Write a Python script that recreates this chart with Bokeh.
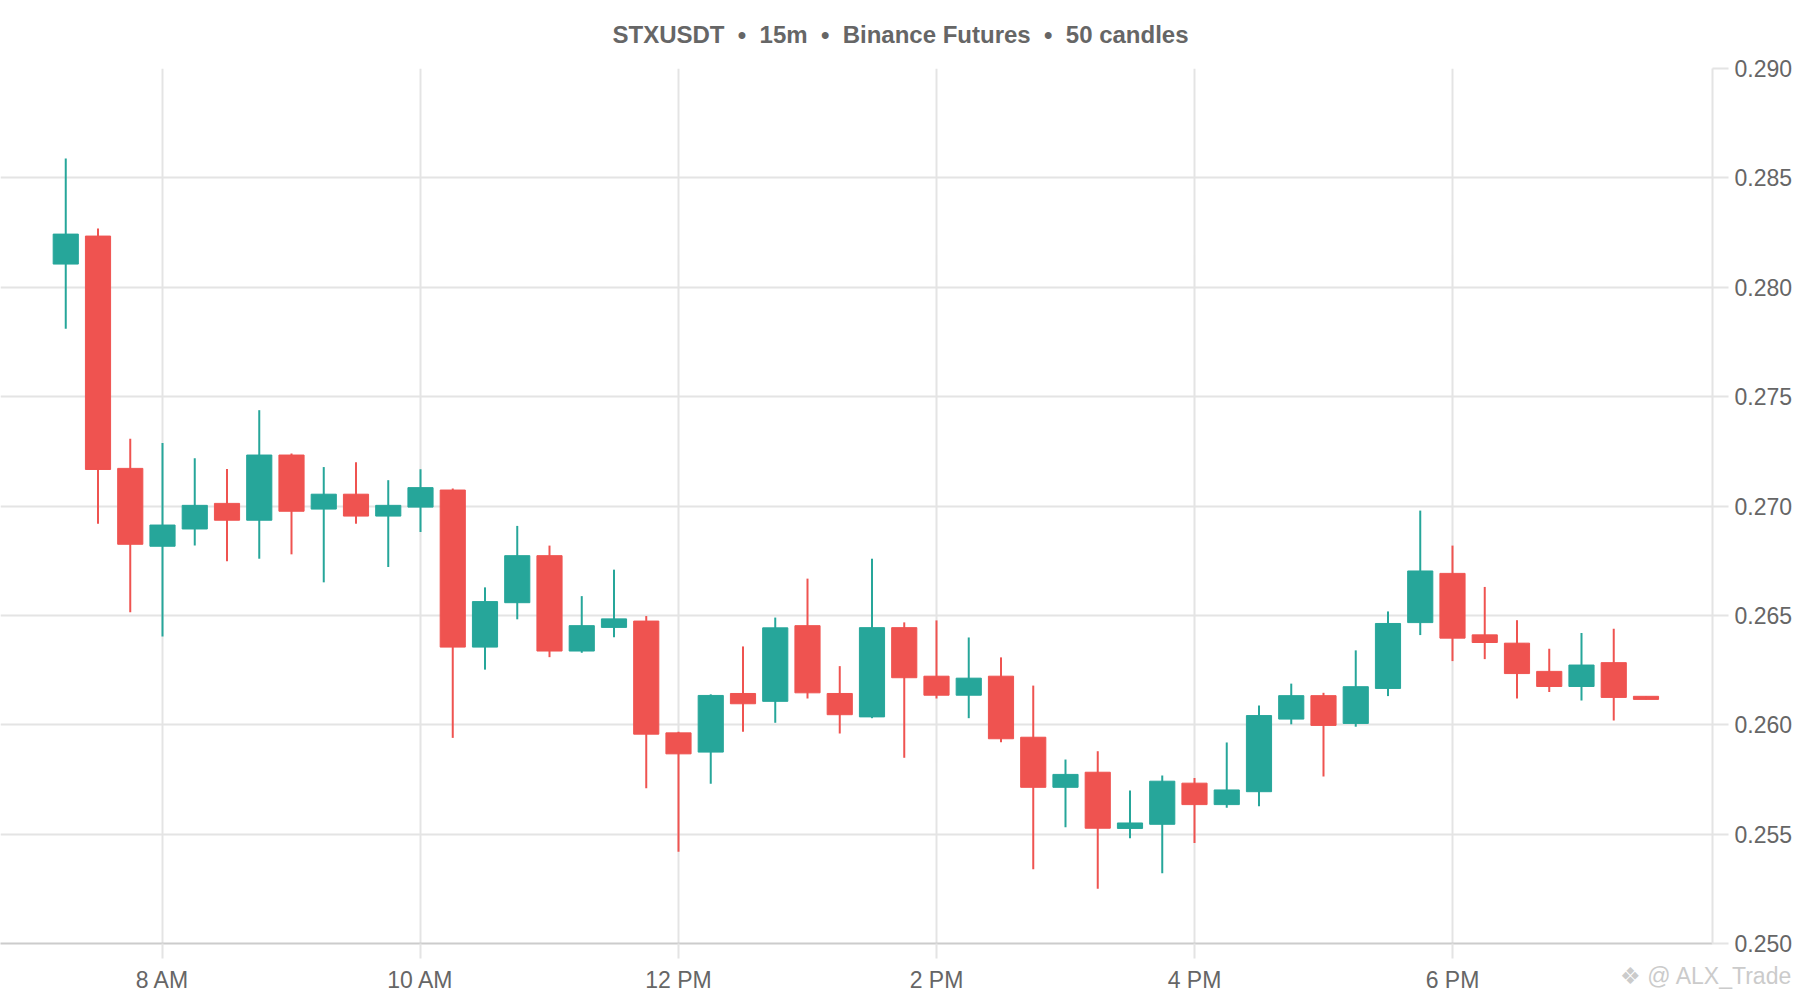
import pandas as pd
from bokeh.plotting import figure
from bokeh.models import ColumnDataSource, Range1d, FixedTicker, Label, NumeralTickFormatter
from bokeh.embed import file_html
from bokeh.resources import INLINE

# ---------------- data ----------------
symbol = "STXUSDT"
interval = "15m"
exchange = "Binance Futures"
n_candles = 50
session_day = "2024-01-15"
first_candle = "07:15"

opens = [0.28106, 0.28234, 0.27172, 0.26816, 0.26895, 0.27012, 0.26935, 0.27233, 0.26986, 0.27054,
         0.26954, 0.26995, 0.27073, 0.26355, 0.26558, 0.26773, 0.26337, 0.26445, 0.26474, 0.25963,
         0.25875, 0.26143, 0.26107, 0.26453, 0.26143, 0.26036, 0.26444, 0.26222, 0.26135, 0.26222,
         0.25943, 0.25714, 0.25783, 0.25526, 0.25545, 0.25733, 0.25635, 0.25694, 0.26026, 0.26133,
         0.26006, 0.26166, 0.26467, 0.26692, 0.26411, 0.26373, 0.26244, 0.26175, 0.26284, 0.26130]
highs = [0.28589, 0.28269, 0.27308, 0.27288, 0.27218, 0.27169, 0.27438, 0.27240, 0.27178, 0.27200,
         0.27118, 0.27168, 0.27080, 0.26628, 0.26909, 0.26819, 0.26588, 0.26709, 0.26497, 0.25968,
         0.26139, 0.26358, 0.26490, 0.26668, 0.26268, 0.26759, 0.26468, 0.26477, 0.26399, 0.26308,
         0.26179, 0.25841, 0.25879, 0.25699, 0.25768, 0.25757, 0.25919, 0.26088, 0.26188, 0.26146,
         0.26340, 0.26518, 0.26979, 0.26819, 0.26630, 0.26478, 0.26348, 0.26419, 0.26439, 0.26130]
lows = [0.27810, 0.26919, 0.26514, 0.26404, 0.26820, 0.26748, 0.26759, 0.26779, 0.26651, 0.26919,
        0.26721, 0.26881, 0.25940, 0.26252, 0.26482, 0.26309, 0.26329, 0.26400, 0.25710, 0.25420,
        0.25730, 0.25968, 0.26009, 0.26120, 0.25960, 0.26030, 0.25849, 0.26120, 0.26030, 0.25920,
        0.25340, 0.25531, 0.25250, 0.25481, 0.25321, 0.25460, 0.25621, 0.25628, 0.26002, 0.25763,
        0.25991, 0.26131, 0.26410, 0.26291, 0.26300, 0.26120, 0.26150, 0.26111, 0.26020, 0.26116]
closes = [0.28243, 0.27167, 0.26825, 0.26913, 0.27003, 0.26935, 0.27233, 0.26976, 0.27054, 0.26954,
          0.27003, 0.27084, 0.26355, 0.26563, 0.26773, 0.26337, 0.26453, 0.26484, 0.25957, 0.25867,
          0.26134, 0.26096, 0.26443, 0.26146, 0.26046, 0.26444, 0.26215, 0.26135, 0.26213, 0.25936,
          0.25714, 0.25773, 0.25527, 0.25551, 0.25742, 0.25635, 0.25702, 0.26042, 0.26133, 0.25997,
          0.26174, 0.26463, 0.26703, 0.26396, 0.26376, 0.26234, 0.26175, 0.26273, 0.26125, 0.26116]

x_tick_times = ["08:00", "10:00", "12:00", "14:00", "16:00", "18:00"]
x_tick_labels = ["8 AM", "10 AM", "12 PM", "2 PM", "4 PM", "6 PM"]
y_ticks = [0.250, 0.255, 0.260, 0.265, 0.270, 0.275, 0.280, 0.285, 0.290]
watermark = "\u2756 @ ALX_Trade"

UP = "#26a69a"
DOWN = "#ef5350"
TEXT = "#666666"
GRID = "#e4e4e4"
FONT = "Liberation Sans"

# ---------------- build ----------------
times = pd.date_range(f"{session_day} {first_candle}", periods=n_candles, freq="15min")
src = ColumnDataSource(dict(
    t=times,
    o=opens, h=highs, l=lows, c=closes,
    top=[max(a, b) for a, b in zip(opens, closes)],
    bot=[min(a, b) for a, b in zip(opens, closes)],
    col=[UP if c >= o else DOWN for o, c in zip(opens, closes)],
))

bar_ms = 15 * 60 * 1000
x_start = pd.Timestamp(f"{session_day} 06:44:39")
x_end = pd.Timestamp(f"{session_day} 20:00:56")

sep = " \u00a0\u2022\u00a0 "
title_text = sep.join([symbol, interval, exchange, f"{n_candles} candles"])

W, H = 1796, 996
FRAME_TOP = 68
p = figure(width=W, height=H, x_axis_type="datetime", y_axis_location="right",
           x_range=Range1d(x_start, x_end), y_range=Range1d(y_ticks[0], y_ticks[-1]),
           output_backend="svg", toolbar_location=None, title=None,
           min_border_left=0, min_border_right=W - 1712, min_border_top=FRAME_TOP,
           min_border_bottom=H - 943)
p.outline_line_color = None
p.background_fill_color = "white"
p.border_fill_color = "white"

p.segment(x0="t", y0="h", x1="t", y1="l", color="col", line_width=2, source=src)
p.vbar(x="t", top="top", bottom="bot", width=bar_ms * 0.78, fill_color="col",
       line_color="col", line_width=1, source=src)

tick_ms = [int(pd.Timestamp(f"{session_day} {t}").value // 10**6) for t in x_tick_times]
xt = FixedTicker(ticks=tick_ms)
xa = p.xaxis[0]
xa.ticker = xt
xa.major_label_overrides = {m: lab for m, lab in zip(tick_ms, x_tick_labels)}
xa.minor_tick_line_color = None
xa.major_tick_in = 0
xa.major_tick_out = 15
xa.major_tick_line_color = GRID
xa.major_tick_line_width = 2
xa.axis_line_color = "#cccccc"
xa.axis_line_width = 2
xa.major_label_standoff = 8
xa.major_label_text_font = FONT
xa.major_label_text_font_size = "23px"
xa.major_label_text_color = TEXT

yt = FixedTicker(ticks=y_ticks)
ya = p.yaxis[0]
ya.ticker = yt
ya.formatter = NumeralTickFormatter(format="0.000")
ya.minor_tick_line_color = None
ya.major_tick_in = 0
ya.major_tick_out = 16
ya.major_tick_line_color = GRID
ya.major_tick_line_width = 2
ya.axis_line_color = GRID
ya.axis_line_width = 2
ya.major_label_standoff = 6
ya.major_label_text_font = FONT
ya.major_label_text_font_size = "23px"
ya.major_label_text_color = TEXT

p.xgrid.ticker = xt
p.ygrid.ticker = yt
p.xgrid.grid_line_color = GRID
p.ygrid.grid_line_color = GRID
p.xgrid.grid_line_width = 2
p.ygrid.grid_line_width = 2

# texts placed in the top side panel (not clipped to the frame)
p.add_layout(Label(x=900, y=34, x_units="screen", y_units="screen", text=title_text,
                   text_align="center", text_baseline="middle", text_font=FONT,
                   text_font_size="24px", text_font_style="bold", text_color=TEXT), "above")
p.add_layout(Label(x=1792, y=41 - 975, x_units="screen", y_units="screen", text=watermark,
                   text_align="right", text_baseline="middle", text_font=FONT,
                   text_font_size="23px", text_color="#cbcbcb"), "above")

open("out.html", "w").write(file_html(p, INLINE))
